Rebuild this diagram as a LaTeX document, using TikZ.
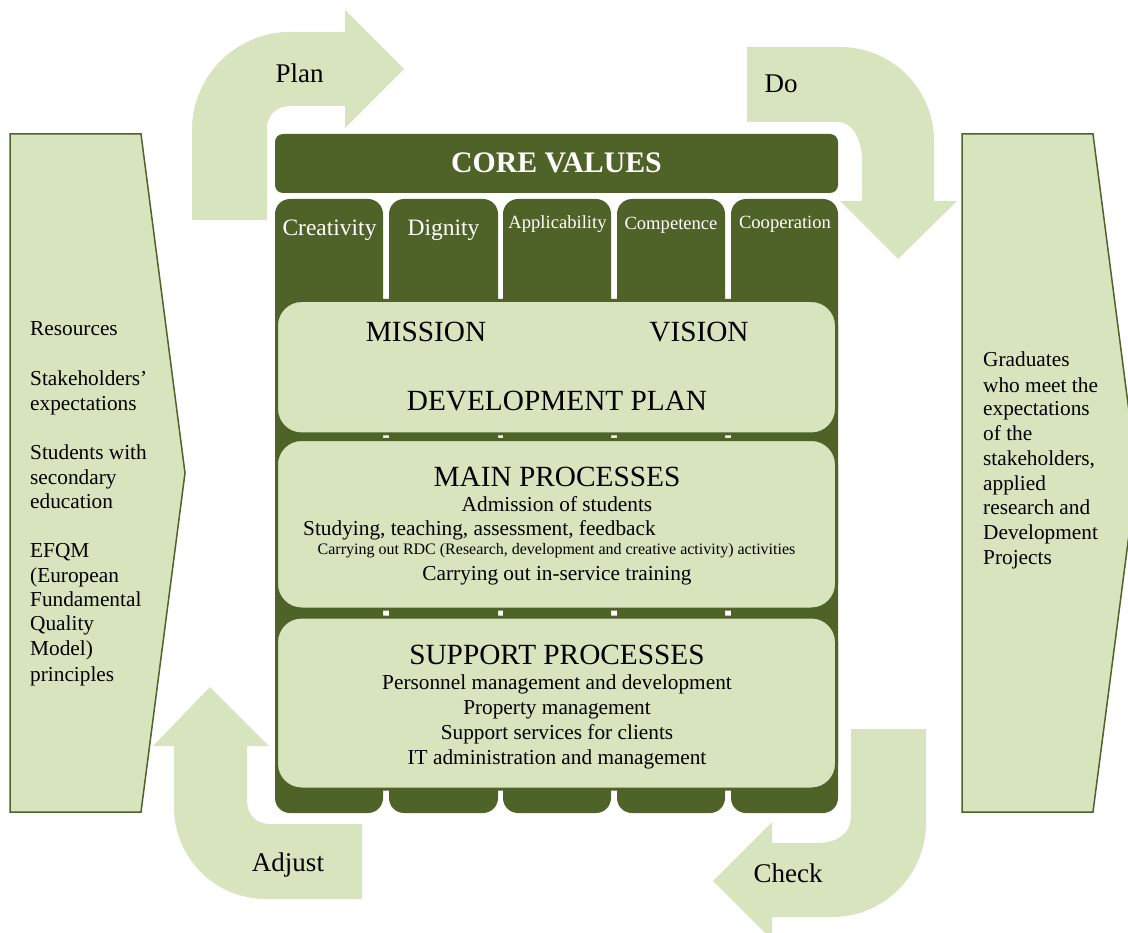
\documentclass[tikz,border=0pt]{standalone}
\usepackage{fontspec}
\setmainfont{Liberation Serif}
\definecolor{olivedark}{HTML}{4F6228}
\definecolor{olivelight}{HTML}{D7E4BD}
\newcommand\setfs[1]{\fontsize{#1}{#1}\selectfont}
\begin{document}
\begin{tikzpicture}[x=1pt,y=-1pt,
  cyclearrow/.style={fill=olivelight},
  sideblock/.style={fill=olivelight,draw=olivedark,line width=1.5pt,line join=miter},
  valuecol/.style={fill=olivedark,rounded corners=15},
  corebar/.style={fill=olivedark,rounded corners=8},
  panel/.style={fill=olivelight,draw=olivedark,line width=3pt,rounded corners=25},
  lbl/.style={inner sep=0pt,anchor=base},
  heading/.style={lbl,font={\setfs{29.3}}},
  item/.style={lbl,font={\setfs{21.3}}},
  colname/.style={lbl,text=white,font={\setfs{#1}}},
  sidetext/.style={inner sep=0pt,anchor=base west,font={\setfs{21.3}}},
  cyclename/.style={lbl,font={\setfs{27}}}]

\path[use as bounding box] (0,0) rectangle (1128,933);

% PDCA cycle arrows
\fill[cyclearrow] (192,220) -- (192,130) .. controls (192,76) and (236,32) .. (290,32)
  -- (345,32) -- (345,10) -- (404,69) -- (345,128) -- (345,106) -- (290,106)
  .. controls (277,106) and (267,115) .. (267,128) -- (267,220) -- cycle;
\fill[cyclearrow] (747,47) -- (840,47) .. controls (892,47) and (934,89) .. (934,141)
  -- (934,201) -- (957,201) -- (898,259) -- (840,201) -- (862,201) -- (862,160)
  .. controls (862,140) and (853,122) .. (838,122) -- (747,122) -- cycle;
\fill[cyclearrow] (210,687) -- (269,746) -- (247,746) -- (247,800)
  .. controls (247,815) and (256,824) .. (270,824) -- (362,824) -- (362,899) -- (266,899)
  .. controls (215,899) and (174,858) .. (174,807) -- (174,746) -- (153,746) -- cycle;
\fill[cyclearrow] (851,729) -- (926,729) -- (926,823) .. controls (926,875) and (884,917) .. (832,917)
  -- (772,917) -- (772,940) -- (713,881) -- (772,822) -- (772,843) -- (817,843)
  .. controls (836,843) and (851,835) .. (851,815) -- cycle;

% input and output blocks
\draw[sideblock] (10,134) -- (141,134) -- (185,473) -- (141,812) -- (10,812) -- cycle;
\draw[sideblock] (962,134) -- (1093,134) -- (1137,473) -- (1093,812) -- (962,812) -- cycle;

% core values bar and value columns
\fill[corebar] (275,134) rectangle (838,193);
\foreach \a/\b in {275/383,389/498,503/611,617/725,731/838}
  \fill[valuecol] (\a,199) rectangle (\b,813);

% strategic and process panels
\draw[panel] (276.5,300.5) rectangle (836.5,434);
\draw[panel] (276.5,439.5) rectangle (836.5,609);
\draw[panel] (276.5,617) rectangle (836.5,789);

% texts
\node[lbl,text=white,font={\setfs{29.8}\bfseries}] (corevalues) at (556.5,173) {CORE VALUES};
\node[colname=23.5] (creativity) at (329.5,236) {Creativity};
\node[colname=23.5] (dignity) at (443.5,236) {Dignity};
\node[colname=18.6] (applicability) at (557.5,229) {Applicability};
\node[colname=18.6] (competence) at (671,230) {Competence};
\node[colname=18.6] (cooperation) at (785,229) {Cooperation};

\node[heading] (mission) at (426,342) {MISSION};
\node[heading] (vision) at (699,342) {VISION};
\node[heading] (devplan) at (557,410) {DEVELOPMENT PLAN};

\node[heading] (mainproc) at (557,486) {MAIN PROCESSES};
\node[item] (admission) at (557,511) {Admission of students};
\node[item] (studying) at (479.5,535) {Studying, teaching, assessment, feedback};
\node[lbl,font={\setfs{16}}] (rdc) at (556.5,554) {Carrying out RDC (Research, development and creative activity) activities};
\node[item] (inservice) at (557,580) {Carrying out in-service training};

\node[heading] (supproc) at (557,664) {SUPPORT PROCESSES};
\node[item] (personnel) at (557,689) {Personnel management and development};
\node[item] (property) at (557,714) {Property management};
\node[item] (clients) at (557,739) {Support services for clients};
\node[item] (itadmin) at (557,764) {IT administration and management};

\foreach \t/\y [count=\i] in {{Resources}/336, {Stakeholders’}/386, {expectations}/410,
    {Students with}/459, {secondary}/484, {education}/508, {EFQM}/557, {(European}/582,
    {Fundamental}/606, {Quality}/630, {Model)}/655, {principles}/681}
  \node[sidetext] (input\i) at (30,\y) {\t};

\foreach \t/\y [count=\i] in {{Graduates}/367, {who meet the}/392, {expectations}/416,
    {of the}/441, {stakeholders,}/465, {applied}/490, {research and}/514,
    {Development}/539, {Projects}/564}
  \node[sidetext] (output\i) at (983,\y) {\t};

\node[cyclename] (plan) at (299.5,83) {Plan};
\node[cyclename] (do) at (781,93) {Do};
\node[cyclename] (check) at (788,882) {Check};
\node[cyclename] (adjust) at (288,871) {Adjust};
\end{tikzpicture}
\end{document}
